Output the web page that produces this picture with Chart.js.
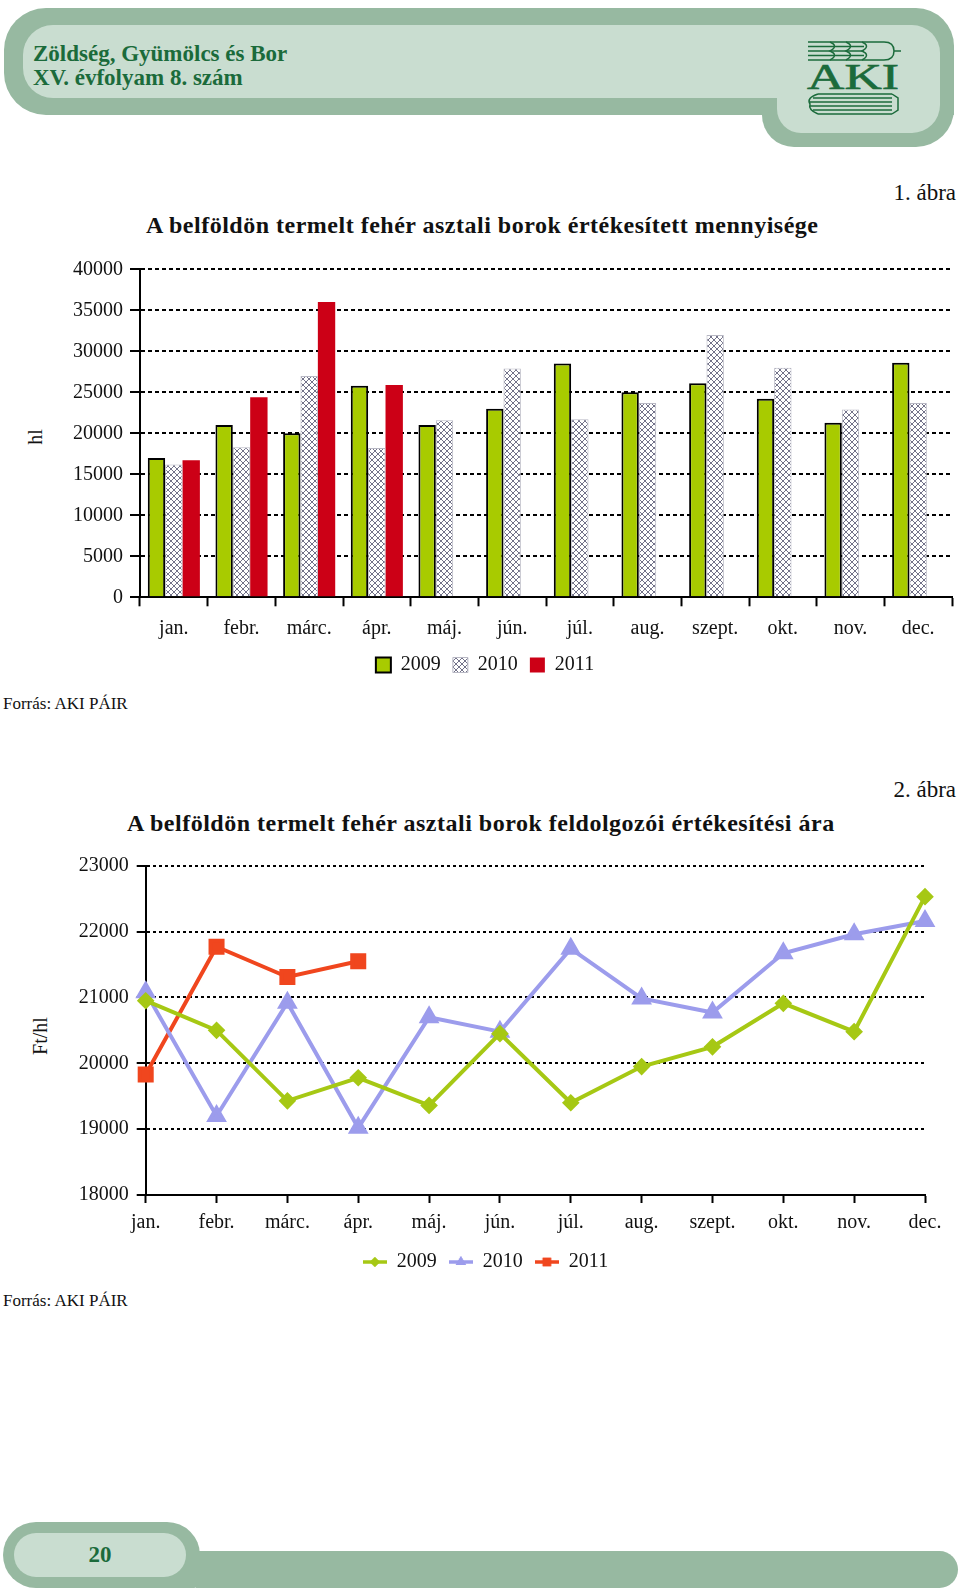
<!DOCTYPE html>
<html lang="hu">
<head>
<meta charset="utf-8">
<title>Fehér asztali borok</title>
<script src="https://cdn.jsdelivr.net/npm/chart.js@4.4.1/dist/chart.umd.min.js"></script>
<style>
  body { margin: 0; width: 960px; height: 1594px; position: relative; background: #fff;
         font-family: "Liberation Serif", serif; color: #111; overflow: hidden; }
  .abs { position: absolute; }
  .dark { background: #97b9a1; }
  .light { background: #c9ddd0; }
  .hdr { color: #1b6b3b; font-weight: bold; font-size: 23px; line-height: 24px; }
  .ctitle { font-weight: bold; font-size: 24px; letter-spacing: 0.5px; line-height: 1; white-space: nowrap; }
  .abra { font-size: 23px; line-height: 1; right: 4px; }
  .src { font-size: 17px; line-height: 1; left: 3px; }
  .ytitle { font-size: 20px; line-height: 1; transform: translate(-50%, -50%) rotate(-90deg); white-space: nowrap; }
  canvas { position: absolute; left: 0; }
</style>
</head>
<body>

<!-- fejléc -->
<div class="abs dark" style="left:4px;top:8px;width:950px;height:107px;border-radius:42px 38px 0 42px;"></div>
<div class="abs dark" style="left:762px;top:60px;width:192px;height:87px;border-radius:0 0 38px 32px;"></div>
<div class="abs light" style="left:23px;top:25px;width:917px;height:73px;border-radius:30px 28px 0 30px;"></div>
<div class="abs light" style="left:777px;top:60px;width:163px;height:73px;border-radius:0 0 28px 24px;"></div>
<div class="abs hdr" style="left:33px;top:42px;">Zöldség, Gyümölcs és Bor<br>XV. évfolyam 8. szám</div>
<svg class="abs" style="left:800px;top:38px" width="112" height="78" viewBox="0 0 112 78">
  <g stroke="#1b6b3b" fill="none" stroke-width="1.5">
    <path d="M8 4H64 M8 8.5H64 M8 13H64 M8 17.5H64 M8 22H64"/>
    <path d="M30 4q9 4 0 9q9 4 0 9 M46 4q9 4 0 9q9 4 0 9 M62 4q9 4 0 9q9 4 0 9"/>
    <path d="M64 4H84q10 0 10 9q0 9-10 9H64 M94 13H101"/>
    <path d="M18 56H92 M13 60H92 M10 64H92 M10 68H92 M13 72H92 M18 76H92"/>
    <path d="M18 56q-12 4-8 10q-2 6 8 10 M92 56l6 4v12l-6 4"/>
  </g>
  <text x="7" y="51" font-size="36" font-family="Liberation Serif" fill="#1b6b3b" stroke="#1b6b3b" stroke-width="0.6" textLength="92" lengthAdjust="spacingAndGlyphs">AKI</text>
</svg>

<!-- 1. ábra -->
<div class="abs abra" style="top:181px;">1. ábra</div>
<div class="abs ctitle" style="left:146px;top:213px;">A belföldön termelt fehér asztali borok értékesített mennyisége</div>
<div class="abs ytitle" style="left:35px;top:437px;">hl</div>
<canvas id="volChart" width="960" height="435" style="top:250px;"></canvas>
<div class="abs src" style="top:695px;">Forrás: AKI PÁIR</div>

<!-- 2. ábra -->
<div class="abs abra" style="top:778px;">2. ábra</div>
<div class="abs ctitle" style="left:127px;top:811px;">A belföldön termelt fehér asztali borok feldolgozói értékesítési ára</div>
<div class="abs ytitle" style="left:40px;top:1036px;">Ft/hl</div>
<canvas id="priceChart" width="960" height="437" style="top:845px;"></canvas>
<div class="abs src" style="top:1292px;">Forrás: AKI PÁIR</div>

<!-- lábléc -->
<div class="abs dark" style="left:196px;top:1551px;width:762px;height:37px;border-radius:0 19px 19px 0;"></div>
<div class="abs dark" style="left:3px;top:1522px;width:197px;height:66px;border-radius:34px 34px 6px 34px;"></div>
<div class="abs light" style="left:14px;top:1533px;width:172px;height:44px;border-radius:24px;"></div>
<div class="abs hdr" style="left:14px;top:1533px;width:172px;line-height:44px;text-align:center;">20</div>

<script>
const months = ["jan.", "febr.", "márc.", "ápr.", "máj.", "jún.", "júl.", "aug.", "szept.", "okt.", "nov.", "dec."];
const years = ["2009", "2010", "2011"];

// értékesített mennyiség, hl
const volume2009 = [17000, 21000, 20000, 25800, 21000, 23000, 28500, 25000, 26100, 24200, 21300, 28600];
const volume2010 = [16200, 18300, 27000, 18200, 21600, 27900, 21700, 23700, 32000, 28000, 22900, 23700];
const volume2011 = [16700, 24400, 36000, 25900, null, null, null, null, null, null, null, null];
const volumeMin = 0, volumeMax = 40000, volumeStep = 5000;

// értékesítési ár, Ft/hl
const price2009 = [20950, 20500, 19430, 19780, 19360, 20450, 19400, 19950, 20250, 20910, 20480, 22530];
const price2010 = [21080, 19200, 20920, 19020, 20700, 20480, 21740, 20985, 20770, 21670, 21960, 22160];
const price2011 = [19830, 21770, 21310, 21550];
const priceMin = 18000, priceMax = 23000, priceStep = 1000;

const green = "#a8cb00";
const red = "#cc0016";
const lineGreen = "#a6c814";
const lineBlue = "#9c9cec";
const lineRed = "#f0461e";

Chart.defaults.font.family = '"Liberation Serif", serif';
Chart.defaults.font.size = 20;
Chart.defaults.color = "#111";

// 2010 oszlopok rácsos mintája
function makeHatch() {
  const c = document.createElement("canvas");
  c.width = 6; c.height = 6;
  const g = c.getContext("2d");
  g.fillStyle = "#fff";
  g.fillRect(0, 0, 6, 6);
  g.strokeStyle = "#62627c";
  g.lineWidth = 0.9;
  g.beginPath();
  g.moveTo(-1, -1); g.lineTo(7, 7);
  g.moveTo(7, -1); g.lineTo(-1, 7);
  g.stroke();
  return g.createPattern(c, "repeat");
}
const hatch = makeHatch();

new Chart(document.getElementById("volChart"), {
  type: "bar",
  data: {
    labels: months,
    datasets: [
      { label: years[0], data: volume2009, backgroundColor: green, borderColor: "#000", borderWidth: 2 },
      { label: years[1], data: volume2010, backgroundColor: hatch, borderColor: "#b8b8c4", borderWidth: 1 },
      { label: years[2], data: volume2011, backgroundColor: red, borderWidth: 0 }
    ]
  },
  options: {
    responsive: false,
    animation: false,
    layout: { padding: { top: 19.3, right: 8, left: 18, bottom: 0 } },
    datasets: { bar: { barPercentage: 1, categoryPercentage: 0.77 } },
    plugins: {
      legend: {
        position: "bottom",
        labels: { boxWidth: 15, boxHeight: 15, padding: 12 }
      },
      tooltip: { enabled: false }
    },
    scales: {
      x: {
        grid: { offset: true, drawOnChartArea: false, tickLength: 9, tickWidth: 2, tickColor: "#000" },
        border: { color: "#000", width: 2 },
        ticks: { padding: 10 },
        afterFit: (s) => { s.height = 45.7; }
      },
      y: {
        min: volumeMin,
        max: volumeMax,
        ticks: { stepSize: volumeStep, padding: 7, callback: (v) => String(v) },
        grid: { color: "#000", lineWidth: 2, tickLength: 10, tickWidth: 2, tickColor: "#000", tickBorderDash: [] },
        border: { color: "#000", width: 2, dash: [4, 3] },
        afterFit: (s) => { s.width = 122; }
      }
    }
  }
});

// jelmagyarázat: vonal jelölővel
function legendMark(color, style, r) {
  const c = document.createElement("canvas");
  c.width = 24; c.height = 16;
  const g = c.getContext("2d");
  g.strokeStyle = color;
  g.lineWidth = 3.5;
  g.beginPath(); g.moveTo(0, 8); g.lineTo(24, 8); g.stroke();
  g.fillStyle = color;
  Chart.helpers.drawPoint(g, { pointStyle: style, radius: r, borderWidth: 0 }, 12, 8);
  g.fill();
  return c;
}
const marks = [legendMark(lineGreen, "rectRot", 5), legendMark(lineBlue, "triangle", 6), legendMark(lineRed, "rect", 6)];

new Chart(document.getElementById("priceChart"), {
  type: "line",
  data: {
    labels: months,
    datasets: [
      { label: years[0], data: price2009, borderColor: lineGreen, backgroundColor: lineGreen,
        borderWidth: 4, pointStyle: "rectRot", pointRadius: 6, clip: false },
      { label: years[1], data: price2010, borderColor: lineBlue, backgroundColor: lineBlue,
        borderWidth: 4, pointStyle: "triangle", pointRadius: 8, clip: false },
      { label: years[2], data: price2011, borderColor: lineRed, backgroundColor: lineRed,
        borderWidth: 4, pointStyle: "rect", pointRadius: 8.5, clip: false }
    ]
  },
  options: {
    responsive: false,
    animation: false,
    layout: { padding: { top: 20.7, right: 35, left: 46, bottom: 0 } },
    elements: { line: { tension: 0 } },
    plugins: {
      legend: {
        position: "bottom",
        labels: {
          usePointStyle: true,
          pointStyleWidth: 24,
          padding: 12,
          generateLabels: (chart) => {
            const items = Chart.defaults.plugins.legend.labels.generateLabels(chart);
            items.forEach((it, i) => { it.pointStyle = marks[i]; });
            return items;
          }
        }
      },
      tooltip: { enabled: false }
    },
    scales: {
      x: {
        offset: false,
        grid: { drawOnChartArea: false, tickLength: 8, tickWidth: 2, tickColor: "#000" },
        border: { color: "#000", width: 2 },
        ticks: { padding: 8 },
        afterFit: (s) => { s.height = 45; }
      },
      y: {
        min: priceMin,
        max: priceMax,
        ticks: { stepSize: priceStep, padding: 8, callback: (v) => String(v) },
        grid: { color: "#000", lineWidth: 2, tickLength: 9, tickWidth: 2, tickColor: "#000", tickBorderDash: [] },
        border: { color: "#000", width: 2, dash: [3, 3] },
        afterFit: (s) => { s.width = 99.7; }
      }
    }
  }
});
</script>
</body>
</html>
